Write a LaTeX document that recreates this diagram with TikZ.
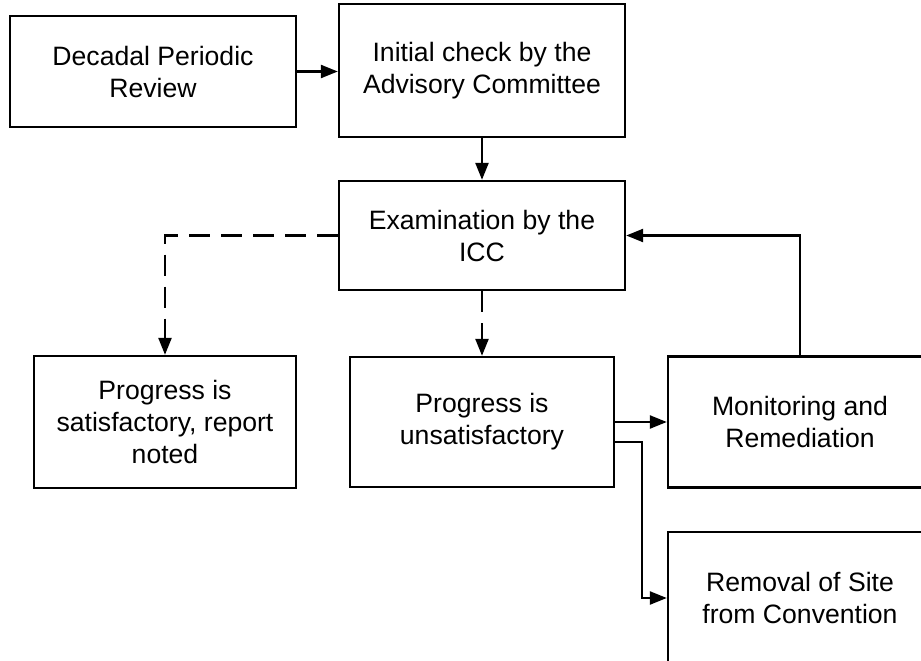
\documentclass[tikz,border=0pt]{standalone}
\usepackage{fontspec}
\setmainfont{Liberation Sans}
\usetikzlibrary{arrows.meta}
\begin{document}
\begin{tikzpicture}[x=1pt,y=-1pt,
  box/.style={draw,line width=2.4pt,align=center,inner sep=0pt,
    font=\fontsize{26.6}{32}\selectfont},
  arr/.style={line width=2.4pt,-{Triangle[length=17pt,width=13pt]}},
  dsh/.style={arr,dash pattern=on 21pt off 11pt}]
\useasboundingbox (0,0) rectangle (921,661);
\clip (0,0) rectangle (921,661);
\node[box,minimum width=286pt,minimum height=111pt] (A) at (153,71.5) {Decadal Periodic\\Review};
\node[box,minimum width=286pt,minimum height=133pt] (B) at (482,70.5) {Initial check by the\\Advisory Committee};
\node[box,minimum width=286pt,minimum height=109pt] (C) at (482,235.5) {Examination by the\\ICC};
\node[box,minimum width=262pt,minimum height=132pt] (D) at (165,422) {Progress is\\satisfactory, report\\noted};
\node[box,minimum width=264pt,minimum height=130pt] (E) at (482,422) {Progress is\\unsatisfactory};
\node[box,minimum width=264pt,minimum height=131pt] (F) at (800,422) {Monitoring and\\Remediation};
\node[box,minimum width=264pt,minimum height=132pt] (G) at (800,598) {Removal of Site\\from Convention};
\draw[arr] (A.east) -- (B.west |- A.east);
\draw[arr] (B.south) -- (C.north);
\draw[dsh] (C.west) -| (D.north);
\draw[dsh] (C.south) -- (E.north);
\draw[arr] (F.north) |- (C.east);
\draw[arr] (E.east) -- (F.west);
\coordinate (ej) at ([yshift=-20pt]E.east);
\draw[arr] (ej) -- ++(27,0) |- (G.west);
\end{tikzpicture}
\end{document}
